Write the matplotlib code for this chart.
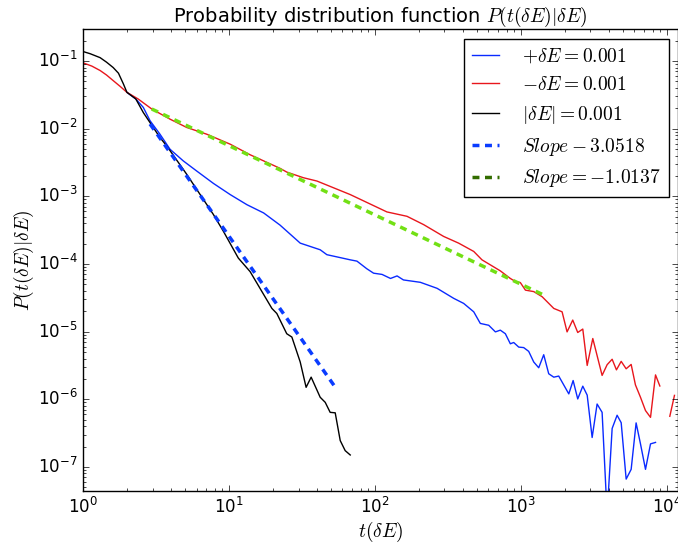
import numpy as np
import matplotlib
matplotlib.use('Agg')
import matplotlib.pyplot as plt

# classic (old matplotlib) look
plt.style.use('classic')
plt.rcParams['mathtext.fontset'] = 'dejavusans'
plt.rcParams['figure.facecolor'] = 'white'
plt.rcParams['savefig.facecolor'] = 'white'
plt.rcParams['lines.scale_dashes'] = False

# +dE curve
plus_t = [2.0, 2.3, 2.59, 2.88, 3.37, 3.95, 4.87, 6.02, 7.83, 10.2, 13.3, 17.3, 22.4, 30.8,
          42.2, 46.9, 57.9, 67.8, 75.4, 88, 98, 112, 128, 142, 157, 205, 267, 347, 406, 476,
          528, 603, 670, 724, 784, 848, 894, 968, 1047, 1133, 1227, 1327, 1436, 1554, 1683,
          1820, 2133, 2284, 2456, 2660, 2851, 3083, 3334, 3608, 3905, 4227, 4571, 4875, 5273,
          5706, 6170, 6610, 7155, 7745, 8380]
plus_p = [0.0344, 0.0275, 0.0206, 0.0131, 0.00827, 0.00495, 0.00333, 0.00236, 0.00155, 0.00106,
          7.5e-4, 5.67e-4, 3.75e-4, 2.03e-4, 1.62e-4, 1.37e-4, 1.24e-4, 1.15e-4, 1.1e-4, 8.5e-5,
          7.3e-5, 7.0e-5, 6.1e-5, 6.65e-5, 5.8e-5, 5.35e-5, 4.36e-5, 3.1e-5, 2.61e-5, 1.96e-5,
          1.32e-5, 1.24e-5, 9.9e-6, 1.05e-5, 9.3e-6, 6.6e-6, 6.9e-6, 5.9e-6, 5.8e-6, 5.1e-6,
          3.55e-6, 2.92e-6, 4.55e-6, 2.38e-6, 2.12e-6, 2.2e-6, 1.2e-6, 1.89e-6, 1.01e-6, 1.56e-6,
          1.15e-6, 2.72e-7, 8.5e-7, 6.4e-7, 2e-8, 3.7e-7, 5.8e-7, 4.5e-7, 6.6e-8, 9.2e-8,
          4.47e-7, 2.19e-7, 9.2e-8, 2.19e-7, 2.3e-7]

# -dE curve (nan = empty bin, gap in the line)
minus_t = [1.0, 1.15, 1.31, 1.45, 1.61, 1.8, 2.0, 2.39, 2.96, 3.95, 5.14, 7.05, 10.2, 14.0,
           22.4, 24.9, 32.4, 40.1, 67.8, 121, 166, 216, 296, 375, 476, 542, 618, 724, 848, 918,
           993, 1076, 1227, 1400, 1683, 1919, 2076, 2270, 2456, 2660, 2851, 3115, 3608, 3905,
           4227, 4524, 4875, 5273, 5706, 6104, 6610, 7155, 7745, 8380, 8970, 9700, 10500, 11300]
minus_p = [0.094, 0.084, 0.0723, 0.062, 0.0513, 0.042, 0.0344, 0.0274, 0.0195, 0.0138, 0.0104,
           0.00827, 0.00589, 0.0041, 0.00259, 0.00228, 0.00188, 0.00168, 0.00106, 5.87e-4,
           5.06e-4, 3.81e-4, 2.55e-4, 2.03e-4, 1.53e-4, 1.15e-4, 9.7e-5, 7.9e-5, 6.1e-5, 5.5e-5,
           5.3e-5, 4.1e-5, 3.9e-5, 3.28e-5, 2.2e-5, 1.96e-5, 9.9e-6, 1.48e-5, 9.7e-6, 1.09e-5,
           3.16e-6, 7.9e-6, 2.25e-6, 3.24e-6, 3.9e-6, 2.72e-6, 3.63e-6, 2.82e-6, 3.27e-6,
           1.63e-6, 1.07e-6, 6.8e-7, 5.4e-7, 2.29e-6, 1.57e-6, np.nan, 5.6e-7, 1.14e-6]

# |dE| curve
abs_t = [1.0, 1.12, 1.31, 1.45, 1.61, 1.75, 1.89, 2.0, 2.3, 2.59, 3.37, 3.75, 5.14, 7.05, 7.83,
         9.17, 11.6, 13.97, 19.7, 21.3, 24.9, 27.0, 30.8, 33.8, 36.6, 42.2, 45.7, 49.4, 53.5,
         57.9, 62.6, 67.8]
abs_p = [0.138, 0.128, 0.112, 0.096, 0.08, 0.066, 0.046, 0.0344, 0.0275, 0.0173, 0.00738,
         0.00554, 0.00211, 7.55e-4, 5.37e-4, 3.03e-4, 1.22e-4, 7.7e-5, 2.2e-5, 1.85e-5, 9.3e-6,
         8.3e-6, 3.55e-6, 1.5e-6, 2.12e-6, 1.07e-6, 9.0e-7, 6.4e-7, 6.3e-7, 2.45e-7, 1.74e-7,
         1.5e-7]

# power law fits, end points
fit1_t = [2.88, 53.5]
fit1_p = [0.0117, 1.51e-6]
fit2_t = [2.96, 1436]
fit2_p = [0.0195, 3.47e-5]

fig = plt.figure(figsize=(6.78, 5.46), dpi=100)
ax = fig.add_axes([0.1224, 0.1007, 0.878, 0.8462])

ax.plot(plus_t, plus_p, color='#0a2aff', lw=1.0, label=r'$+\delta E = 0.001$')
ax.plot(minus_t, minus_p, color='#e8161c', lw=1.0, label=r'$-\delta E = 0.001$')
ax.plot(abs_t, abs_p, color='k', lw=1.0, label=r'$|\delta E| = 0.001$')
ax.plot(fit1_t, fit1_p, '--', color='#0a3cff', lw=2.5, dashes=(5, 4), label=r'$Slope -3.0518$')
ax.plot(fit2_t, fit2_p, '--', color='#72e014', lw=2.5, dashes=(5, 4), label=r'$Slope = -1.0137$')

ax.set_xscale('log')
ax.set_yscale('log')
ax.set_xlim(1, 1.2e4)
ax.set_ylim(4.4e-8, 0.297)

ax.set_title(r'Probability distribution function $P(t(\delta E)|\delta E)$', fontsize=14, math_fontfamily='cm')
ax.set_xlabel(r'$t(\delta E)$', fontsize=14, math_fontfamily='cm', labelpad=2)
ax.set_ylabel(r'$P(t(\delta E)|\delta E)$', fontsize=14, math_fontfamily='cm', labelpad=1)

leg = ax.legend(loc='upper right', prop={'size': 14, 'math_fontfamily': 'cm'}, handlelength=1.4,
                handletextpad=1.2, numpoints=1, borderaxespad=0.5)
leg.legend_handles[4].set_color('#336d00')

fig.savefig('out.png', dpi=100)
